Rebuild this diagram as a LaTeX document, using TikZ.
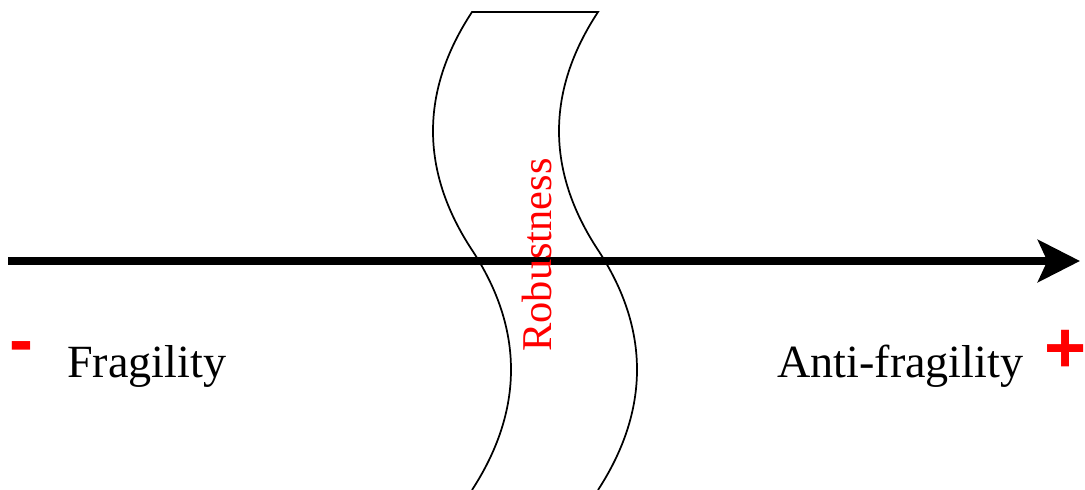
\documentclass[tikz,border=0pt]{standalone}
\usepackage{fontspec}
\setmainfont{Liberation Serif}
\newfontfamily\signfont{Liberation Sans}
\usetikzlibrary{arrows.meta}
\begin{document}
\begin{tikzpicture}[x=0.75pt,y=-0.75pt,
  axis/.style={line width=6pt,-{Stealth[length=31.5pt,width=31.5pt,inset=7pt]}},
  band/.style={line width=1.3pt,black},
  label/.style={inner sep=0pt,font=\fontsize{34.6pt}{41pt}\selectfont},
  robust/.style={inner sep=0pt,text=red,rotate=90,font=\fontsize{31.8pt}{38pt}\selectfont},
  sign/.style={inner sep=0pt,text=red,font=\signfont\bfseries\fontsize{54pt}{64pt}\selectfont}]
\useasboundingbox (0,0) rectangle (1085,489);
% tape band
\draw[band] (472,490) .. controls (524,410) and (524,329) .. (472,250)
  .. controls (420,171) and (420,91) .. (472,12) -- (598,12)
  .. controls (546,91) and (546,171) .. (598,250)
  .. controls (650,329) and (650,410) .. (598,490);
% axis
\coordinate (axisL) at (8,261);
\coordinate (axisR) at (1080,261);
\draw[axis] (axisL) -- (axisR);
% labels
\node[robust,anchor=base] (rob) at (551,255) {Robustness};
\node[label,anchor=base west] (frag) at (67,377) {Fragility};
\node[label,anchor=base west] (anti) at (777,377) {Anti-fragility};
\node[sign,anchor=base west] (minus) at (9,364) {-};
\node[sign,anchor=base west] (plus) at (1044,372) {+};
\end{tikzpicture}
\end{document}
